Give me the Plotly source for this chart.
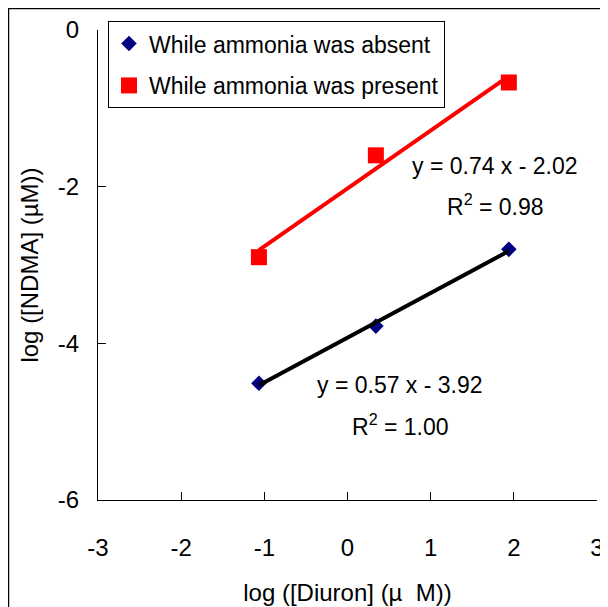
import numpy as np
import plotly.graph_objects as go

# data
x_absent = [-1.065, 0.341, 1.94]
y_absent = [-4.51, -3.78, -2.80]
x_present = [-1.065, 0.341, 1.94]
y_present = [-2.90, -1.60, -0.67]

series_names = ["While ammonia was absent", "While ammonia was present"]
eq_absent = ["y = 0.57 x - 3.92", "R<sup>2</sup> = 1.00"]
eq_present = ["y = 0.74 x - 2.02", "R<sup>2</sup> = 0.98"]

x_tickvals = [-3, -2, -1, 0, 1, 2, 3]
x_ticktext = ["-3", "-2", "-1", "0", "1", "2", "3"]
y_tickvals = [0, -2, -4, -6]
y_ticktext = ["0", "-2", "-4", "-6"]

FONT = "Liberation Sans, Arial, sans-serif"

def fit_line(xs, ys):
    k, b = np.polyfit(xs, ys, 1)
    xx = np.array([min(xs), max(xs)])
    return xx, k * xx + b

fig = go.Figure()

fig.add_trace(go.Scatter(x=x_absent, y=y_absent, mode="markers", name=series_names[0],
                         legendgroup="a",
                         marker=dict(symbol="diamond", size=12, color="#000080")))
fig.add_trace(go.Scatter(x=x_present, y=y_present, mode="markers", name=series_names[1],
                         legendgroup="b",
                         marker=dict(symbol="square", size=16, color="#FF0000")))

xa, ya = fit_line(x_absent, y_absent)
xp, yp = fit_line(x_present, y_present)
fig.add_trace(go.Scatter(x=xa, y=ya, mode="lines", line=dict(color="black", width=4),
                         showlegend=False, hoverinfo="skip"))
fig.add_trace(go.Scatter(x=xp, y=yp, mode="lines", line=dict(color="#FF0000", width=4),
                         showlegend=False, hoverinfo="skip"))

ann_font = dict(family=FONT, size=23, color="black")
annotations = [
    dict(x=1.773, y=-1.736, text=eq_present[0]),
    dict(x=1.785, y=-2.234, text=eq_present[1]),
    dict(x=0.631, y=-4.532, text=eq_absent[0]),
    dict(x=0.643, y=-5.043, text=eq_absent[1]),
]
for a in annotations:
    a.update(xref="x", yref="y", showarrow=False, font=ann_font, xanchor="center", yanchor="middle")

fig.update_layout(
    width=600, height=599,
    margin=dict(l=90, r=11, t=22, b=107, autoexpand=False),
    paper_bgcolor="white", plot_bgcolor="white",
    font=dict(family=FONT, size=23, color="black"),
    showlegend=True,
    legend=dict(x=0.02, y=1.019, xanchor="left", yanchor="top",
                bgcolor="white", bordercolor="black", borderwidth=1,
                font=dict(family=FONT, size=23),
                traceorder="grouped", tracegroupgap=9),
    annotations=annotations,
    shapes=[dict(type="rect", xref="paper", yref="paper",
                 x0=-0.1794, x1=1.1, y0=-0.3, y1=1.0457,
                 line=dict(color="black", width=1.5), layer="above")],
)

fig.update_xaxes(range=[-3, 3], tickvals=x_tickvals, ticktext=x_ticktext, automargin=False,
                 ticklabeloverflow="allow",
                 ticks="inside", ticklen=8, tickcolor="black",
                 showline=True, linecolor="black", linewidth=1, showgrid=False, zeroline=False,
                 tickfont=dict(family=FONT, size=24), ticklabelstandoff=26,
                 title=dict(text="log ([Diuron] (\u00b5\u00a0 M))", font=dict(family=FONT, size=24), standoff=24))
fig.update_yaxes(range=[-6, 0], tickvals=y_tickvals, ticktext=y_ticktext, automargin=False,
                 ticklabeloverflow="allow",
                 ticks="inside", ticklen=8, tickcolor="black",
                 showline=True, linecolor="black", linewidth=1, showgrid=False, zeroline=False,
                 tickfont=dict(family=FONT, size=24), ticklabelstandoff=13,
                 title=dict(text="log ([NDMA] (\u00b5M))", font=dict(family=FONT, size=24), standoff=12))

fig.write_html("out.html")
